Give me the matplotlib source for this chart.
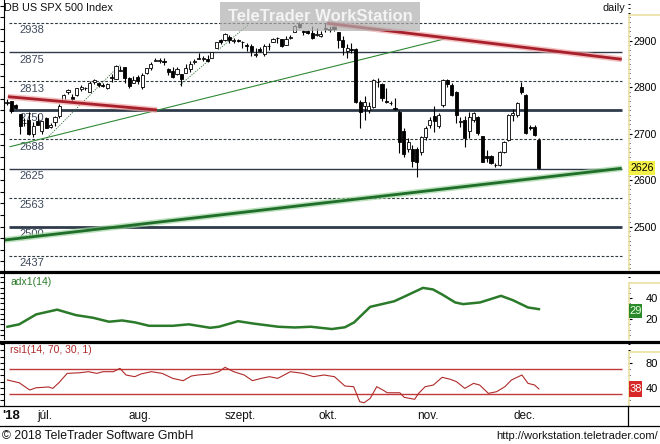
import matplotlib
matplotlib.use('Agg')
import matplotlib.pyplot as plt
from matplotlib.patches import Rectangle
from matplotlib.lines import Line2D
from matplotlib.ticker import MultipleLocator, FixedLocator, NullFormatter

plt.rcParams['font.family'] = ['Liberation Sans', 'DejaVu Sans']

# ---------------- data ----------------
dates = ["06-20","06-21","06-22","06-25","06-26","06-27","06-28","06-29",
         "07-02","07-03","07-04","07-05","07-06","07-09","07-10","07-11","07-12","07-13",
         "07-16","07-17","07-18","07-19","07-20","07-23","07-24","07-25","07-26","07-27",
         "07-30","07-31","08-01","08-02","08-03","08-06","08-07","08-08","08-09","08-10",
         "08-13","08-14","08-15","08-16","08-17","08-20","08-21","08-22","08-23","08-24",
         "08-27","08-28","08-29","08-30","08-31","09-03","09-04","09-05","09-06","09-07",
         "09-10","09-11","09-12","09-13","09-14","09-17","09-18","09-19","09-20","09-21",
         "09-24","09-25","09-26","09-27","09-28","10-01","10-02","10-03","10-04","10-05",
         "10-08","10-09","10-10","10-11","10-12","10-15","10-16","10-17","10-18","10-19",
         "10-22","10-23","10-24","10-25","10-26","10-29","10-30","10-31","11-01","11-02",
         "11-05","11-06","11-07","11-08","11-09","11-12","11-13","11-14","11-15","11-16",
         "11-19","11-20","11-21","11-22","11-23","11-26","11-27","11-28","11-29","11-30",
         "12-03","12-04","12-05","12-06","12-07"]
opens = [2765.8,2769.3,2760.8,2742.9,2722.1,2728.5,2698.7,2727.1,
         2705.0,2733.3,2714.0,2724.2,2737.7,2769.8,2788.6,2779.8,2783.1,2796.9,
         2797.4,2789.3,2811.4,2809.4,2804.6,2799.2,2820.7,2817.7,2835.5,2842.4,
         2819.0,2809.7,2821.2,2800.5,2829.6,2840.3,2855.9,2856.8,2857.2,2838.9,
         2835.5,2827.9,2828.0,2831.4,2838.3,2853.9,2861.5,2861.0,2860.3,2862.4,
         2884.7,2901.5,2900.6,2908.9,2898.4,2901.5,2896.5,2891.6,2888.6,2868.3,
         2881.4,2871.6,2888.3,2896.9,2906.4,2903.8,2890.7,2906.6,2919.7,2936.8,
         2921.8,2921.8,2917.0,2911.7,2910.0,2926.3,2923.8,2931.7,2919.4,2902.5,
         2877.5,2882.5,2882.0,2769.0,2759.0,2750.0,2757.0,2811.0,2807.0,2770.0,
         2766.0,2755.0,2747.0,2706.0,2667.0,2668.0,2666.0,2660.0,2692.0,2718.0,
         2737.0,2716.0,2761.0,2815.0,2805.0,2790.0,2725.0,2730.0,2705.0,2729.0,
         2735.0,2694.0,2652.0,2652.0,2633.0,2632.0,2661.0,2686.0,2740.0,2740.0,
         2801.0,2783.0,2714.0,2715.0,2687.0]
highs = [2774.9,2769.3,2764.2,2742.9,2732.9,2746.1,2724.3,2743.3,
         2727.3,2736.6,2722.0,2737.8,2764.4,2784.7,2795.6,2785.9,2799.2,2804.5,
         2801.2,2814.2,2816.8,2812.1,2809.7,2808.6,2829.0,2848.0,2845.6,2843.2,
         2821.7,2824.5,2825.8,2829.9,2840.4,2853.3,2863.4,2862.4,2862.5,2842.2,
         2843.4,2843.1,2828.0,2850.5,2855.6,2859.8,2873.2,2867.5,2868.8,2876.2,
         2898.3,2903.8,2916.5,2912.5,2906.3,2904.0,2900.2,2894.2,2892.1,2883.8,
         2886.9,2892.5,2894.7,2906.8,2908.3,2904.7,2911.2,2912.4,2934.8,2940.9,
         2923.8,2924.0,2931.2,2927.2,2920.5,2937.1,2931.4,2939.9,2919.8,2909.6,
         2894.0,2894.8,2885.0,2772.0,2780.0,2768.0,2818.0,2820.0,2810.0,2798.0,
         2770.0,2776.0,2750.0,2712.0,2690.0,2675.0,2672.0,2695.0,2716.0,2735.0,
         2760.0,2745.0,2818.0,2818.0,2808.0,2792.0,2735.0,2738.0,2746.0,2746.0,
         2738.0,2696.0,2665.0,2655.0,2637.0,2662.0,2685.0,2742.0,2753.0,2768.0,
         2812.0,2786.0,2718.0,2718.0,2690.0]
lows = [2762.0,2744.4,2752.7,2698.7,2715.6,2698.0,2692.0,2718.0,
        2699.0,2711.2,2712.0,2716.0,2733.5,2769.8,2786.2,2770.8,2781.5,2791.7,
        2793.4,2789.2,2805.9,2799.8,2800.0,2795.1,2811.1,2817.7,2835.3,2808.3,
        2798.1,2808.1,2805.9,2796.3,2827.4,2836.0,2855.9,2853.1,2848.3,2825.8,
        2819.9,2826.6,2802.5,2831.4,2833.7,2850.6,2861.3,2856.1,2854.0,2862.4,
        2884.7,2893.5,2898.4,2895.2,2895.8,2898.0,2885.1,2876.9,2867.3,2864.1,
        2875.9,2866.8,2879.2,2896.4,2895.8,2886.2,2890.4,2903.8,2919.7,2927.1,
        2912.6,2913.7,2903.3,2909.3,2907.5,2917.9,2919.4,2921.4,2883.9,2869.3,
        2862.1,2874.3,2766.0,2712.0,2730.0,2745.0,2755.0,2800.0,2770.0,2765.0,
        2762.0,2752.0,2658.0,2650.0,2660.0,2628.0,2607.0,2655.0,2686.0,2712.0,
        2703.0,2712.0,2758.0,2800.0,2780.0,2722.0,2715.0,2672.0,2690.0,2726.0,
        2698.0,2638.0,2640.0,2634.0,2628.0,2630.0,2658.0,2684.0,2728.0,2736.0,
        2785.0,2700.0,2708.0,2694.0,2624.0]
closes = [2767.3,2749.8,2754.9,2717.1,2723.1,2699.6,2716.3,2718.4,
          2726.7,2713.2,2718.0,2736.6,2759.8,2784.2,2793.8,2774.0,2798.3,2801.3,
          2798.4,2809.6,2815.6,2804.5,2801.8,2807.0,2820.4,2846.1,2837.4,2818.8,
          2802.6,2816.3,2813.4,2827.2,2840.4,2850.4,2858.5,2857.7,2853.6,2833.3,
          2821.9,2840.0,2818.4,2840.7,2850.1,2857.1,2863.0,2861.8,2857.0,2874.7,
          2896.7,2897.5,2914.0,2901.1,2901.5,2900.0,2896.7,2888.6,2878.1,2871.7,
          2877.1,2887.9,2888.9,2904.2,2905.0,2888.8,2904.3,2908.0,2930.8,2929.7,
          2919.4,2915.6,2906.0,2914.0,2914.0,2924.6,2923.4,2925.5,2901.6,2885.6,
          2884.4,2880.3,2769.0,2747.0,2769.0,2759.0,2815.0,2812.0,2776.0,2768.0,
          2765.0,2754.0,2683.0,2656.0,2683.0,2642.0,2640.0,2692.0,2712.0,2729.0,
          2728.0,2740.0,2815.0,2806.0,2783.0,2740.0,2726.0,2690.0,2735.0,2744.0,
          2701.0,2640.0,2648.0,2637.0,2632.0,2661.0,2683.0,2740.0,2745.0,2766.0,
          2790.0,2702.0,2712.0,2697.0,2626.0]

level_vals = [2437.5, 2500, 2562.5, 2625, 2687.5, 2750, 2812.5, 2875, 2937.5]
level_labels = ["2437", "2500", "2563", "2625", "2688", "2750", "2813", "2875", "2938"]
level_kinds = ["dash", "thick", "dash", "thin", "dash", "thick", "dash", "thin", "dash"]

# trend lines: (start idx, start price, end idx, end price)
red_lines = [(0.2, 2779.6, 34.4, 2751.0), (73.4, 2937.5, 141.0, 2860.0)]
green_thick = (-0.5, 2471.3, 141.0, 2625.5)
green_thin = (0.7, 2672.0, 100.9, 2905.2)
dotted_lines = [(9.2, 2690.7, 25.9, 2847.8), (39.7, 2804.7, 47.2, 2865.0), (48.4, 2880.0, 55.3, 2933.8)]

adx_pos = [0.1, 2.8, 6.7, 11.5, 15.8, 19.7, 23.4, 26.4, 29.4, 32.6, 38, 41.7, 46.6, 48.6, 53, 56.4,
           62.2, 66, 69.7, 74.5, 77.5, 79.6, 83.3, 88.8, 91, 95.4, 97.7, 99.8, 102.8, 104.6, 108.5,
           113.3, 116, 119.5, 122]
adx_val = [12.7, 15, 24.5, 29, 23.8, 21.3, 17.5, 18.7, 16.8, 13.6, 13.6, 15, 11.7, 12.7, 18, 15.8,
           12.7, 12, 12.7, 10.5, 12.2, 16.8, 31.7, 37, 41.2, 49.8, 48.3, 43.5, 35.9, 34.3, 35.9,
           42.2, 38.1, 31.1, 29.5]
rsi_pos = [0.1, 2.8, 5.2, 6.7, 8.0, 9.5, 10.5, 11.9, 13.8, 16.7, 18.7, 20.6, 22, 24.4, 25.9, 27.3,
           29.3, 30.7, 33.1, 35.6, 38, 40.4, 42.3, 43.8, 46.7, 48.6, 50, 52, 54.4, 56.3, 58.3, 60.2,
           62.1, 65, 67.9, 70.3, 72.7, 75.1, 77.5, 79.5, 80.9, 81.9, 83.3, 84.8, 86.2, 87.2, 90.1,
           91.1, 93.5, 94.4, 95.9, 97.8, 99.8, 101.7, 103.1, 105, 107, 108.4, 110.4, 112.3, 114.2,
           115.7, 118.1, 119.5, 121, 122]
rsi_val = [52.4, 48, 36.4, 40, 40.5, 41.3, 39, 48, 63, 64, 65.7, 63, 65.7, 65.7, 71, 60.4,
           57.7, 62, 65.7, 63, 55, 51.3, 58.8, 60.4, 62, 65.7, 72.7, 65.7, 60.4, 51.3, 55, 57.7,
           55, 65.7, 63, 57.7, 60.4, 57.7, 42.8, 41.7, 17.7, 16, 23, 41.7, 36.4, 32, 32,
           24.7, 21.5, 31, 41.7, 44.4, 56.7, 53.5, 49.7, 39, 47, 44.4, 31, 33.7, 41.7,
           52.4, 60.4, 47, 44.4, 38]

month_labels = ["júl.", "aug.", "szept.", "okt.", "nov.", "dec."]
month_starts = ["07-02", "08-01", "09-03", "10-01", "11-01", "12-03"]

last_price = "2626"
last_adx = "29"
last_rsi = "38"

# ---------------- layout helpers ----------------
W, H = 660, 444
fig = plt.figure(figsize=(6.6, 4.44), dpi=100)
fig.patch.set_facecolor('white')

def rect(x0, y0, x1, y1):
    return [x0 / W, 1 - y1 / H, (x1 - x0) / W, (y1 - y0) / H]

def fx(px):
    return px / W

def fy(py):
    return 1 - py / H

X0, DX = 7.0, 4.36
XL = ((4 - X0) / DX, (628 - X0) / DX)
line_end = (622 - X0) / DX
line_start = (9 - X0) / DX

PALE = '#ece4a8'
SLATE = '#2f3b4b'

def style_panel(a, ylim):
    a.set_xlim(*XL)
    a.set_ylim(*ylim)
    for s in ['top', 'right', 'bottom']:
        a.spines[s].set_visible(False)
    a.spines['left'].set_color('black')
    a.spines['left'].set_linewidth(0.8)
    a.set_xticks([])
    a.set_facecolor('none')

def right_axis(a, ylim, majors, minor_step, pad, size):
    r = a.twinx()
    r.set_ylim(*ylim)
    r.set_xlim(*XL)
    for s in ['top', 'right', 'bottom', 'left']:
        r.spines[s].set_visible(False)
    r.yaxis.set_major_locator(FixedLocator(majors))
    r.yaxis.set_minor_locator(MultipleLocator(minor_step))
    r.tick_params(axis='y', which='major', direction='out', length=3, width=0.8, pad=pad,
                  labelsize=size, colors='black')
    r.tick_params(axis='y', which='minor', direction='out', length=1.6, width=0.7)
    r.set_xticks([])
    return r

# ---------------- main price panel ----------------
ax = fig.add_axes(rect(4, 0, 628, 270))
style_panel(ax, (2406.7, 2987.6))
ax.yaxis.set_major_locator(MultipleLocator(25))
ax.yaxis.set_major_formatter(NullFormatter())
ax.tick_params(axis='y', which='major', direction='out', length=3, width=0.8, left=True)

axr = right_axis(ax, (2406.7, 2987.6), [2500, 2600, 2700, 2800, 2900], 10, 1.2, 7.6)

for v, lab, kind in zip(level_vals, level_labels, level_kinds):
    if kind == 'dash':
        ax.hlines(v, line_start, line_end, colors='#303840', lw=0.8, linestyles=(0, (2.5, 1.6)), zorder=1)
    elif kind == 'thick':
        ax.hlines(v, line_start, line_end, colors=SLATE, lw=2.0, zorder=1)
    else:
        ax.hlines(v, line_start, line_end, colors=SLATE, lw=1.0, zorder=1)
    ax.text((19 - X0) / DX, v - 15.5, lab, fontsize=8, color='#3e4a5c', va='center', ha='left', zorder=1)

# trend lines
gx0, gy0, gx1, gy1 = green_thick
ax.plot([gx0, gx1], [gy0, gy1], color='#9fd49f', lw=4.2, alpha=0.7, solid_capstyle='butt', zorder=2)
ax.plot([gx0, gx1], [gy0, gy1], color='#1f6e2a', lw=2.0, solid_capstyle='butt', zorder=2)
tx0, ty0, tx1, ty1 = green_thin
ax.plot([tx0, tx1], [ty0, ty1], color='#2f8a36', lw=0.8, zorder=2)
for (a0, b0, a1, b1) in dotted_lines:
    ax.plot([a0, a1], [b0, b1], color='#2f6e36', lw=0.6, linestyle=(0, (1.5, 1.5)), zorder=2)
for (a0, b0, a1, b1) in red_lines:
    ax.plot([a0, a1], [b0, b1], color='#f0a6a6', lw=4.2, alpha=0.7, solid_capstyle='butt', zorder=4)
    ax.plot([a0, a1], [b0, b1], color='#a8202c', lw=2.0, solid_capstyle='butt', zorder=4)

# candles
for i, (o, h, l, c) in enumerate(zip(opens, highs, lows, closes)):
    ax.vlines(i, l, h, colors='black', lw=0.8, zorder=3)
    bot = min(o, c)
    hgt = max(abs(c - o), 1.2)
    face = 'white' if c >= o else 'black'
    ax.add_patch(Rectangle((i - 0.36, bot), 0.72, hgt, facecolor=face, edgecolor='black',
                           lw=0.6, zorder=3.5))

# titles
fig.text(fx(4), fy(8), "DB US SPX 500 Index", fontsize=7.8, va='center', ha='left', color='#111111')
fig.text(fx(625), fy(8), "daily", fontsize=7.8, va='center', ha='right', color='#111111')

# watermark
fig.patches.append(Rectangle((fx(220), fy(31)), fx(420) - fx(220), fy(2) - fy(31),
                             transform=fig.transFigure, facecolor='#b0b0b0', alpha=0.7,
                             edgecolor='none', zorder=5))
fig.text(fx(320), fy(16.5), "TeleTrader WorkStation", fontsize=12, fontweight='bold',
         color='white', alpha=0.8, ha='center', va='center', zorder=6)

# pale axis borders
def pale_border(ytop, ybot):
    fig.lines.append(Line2D([fx(628.5), fx(628.5)], [fy(ytop), fy(ybot)], transform=fig.transFigure,
                            color=PALE, lw=1.3, zorder=1))
    fig.lines.append(Line2D([fx(628.5), fx(660)], [fy(ytop), fy(ytop)], transform=fig.transFigure,
                            color=PALE, lw=1.3, zorder=1))

pale_border(15, 270)

# last price box
fig.patches.append(Rectangle((fx(629), fy(175)), fx(655) - fx(629), fy(161) - fy(175),
                             transform=fig.transFigure, facecolor='#f4f04a', edgecolor='none', zorder=7))
fig.text(fx(642), fy(168), last_price, fontsize=7.6, ha='center', va='center', color='black', zorder=8)

# ---------------- ADX panel ----------------
ax2 = fig.add_axes(rect(4, 273, 628, 339))
style_panel(ax2, (1, 64))
ax2.yaxis.set_major_locator(MultipleLocator(5))
ax2.yaxis.set_major_formatter(NullFormatter())
ax2.tick_params(axis='y', direction='out', length=3, width=0.8)
ax2.plot(adx_pos, adx_val, color='#2a7a2a', lw=1.8, zorder=3)
ax2.text(0.01, 0.86, "adx1(14)", transform=ax2.transAxes, fontsize=7.5, color='#2a7a2a',
         ha='left', va='center')
ax2r = right_axis(ax2, (1, 64), [20, 40], 5, 9.5, 8)
pale_border(283, 339)
fig.patches.append(Rectangle((fx(629), fy(318)), fx(642) - fx(629), fy(304) - fy(318),
                             transform=fig.transFigure, facecolor='#2a8a2a', edgecolor='none', zorder=7))
fig.text(fx(635.5), fy(311), last_adx, fontsize=8, ha='center', va='center', color='#e8ffe8', zorder=8)

# ---------------- RSI panel ----------------
ax3 = fig.add_axes(rect(4, 343, 628, 405))
style_panel(ax3, (12.4, 111.6))
ax3.yaxis.set_major_locator(MultipleLocator(10))
ax3.yaxis.set_major_formatter(NullFormatter())
ax3.tick_params(axis='y', direction='out', length=3, width=0.8)
ax3.hlines([70, 30], line_start, line_end, colors='#c03a3a', lw=1.0, zorder=2)
ax3.plot(rsi_pos, rsi_val, color='#b02a2a', lw=0.8, zorder=3)
ax3.text(0.01, 0.88, "rsi1(14, 70, 30, 1)", transform=ax3.transAxes, fontsize=7.5, color='#b02a2a',
         ha='left', va='center')
ax3r = right_axis(ax3, (12.4, 111.6), [40, 80], 10, 9.5, 8)
pale_border(352, 405)
fig.patches.append(Rectangle((fx(629), fy(397)), fx(642) - fx(629), fy(381) - fy(397),
                             transform=fig.transFigure, facecolor='#d62828', edgecolor='none', zorder=7))
fig.text(fx(635.5), fy(389), last_rsi, fontsize=8, ha='center', va='center', color='white', zorder=8)

# ---------------- date axis ----------------
ax4 = fig.add_axes(rect(4, 406, 628, 425))
ax4.set_xlim(*XL)
ax4.set_ylim(0, 1)
ax4.axis('off')
for lab, d in zip(month_labels, month_starts):
    ax4.text(dates.index(d) + 0.6, 0.5, lab, fontsize=8.5, ha='center', va='center', color='#111111')
fig.text(fx(2), fy(416), "'18", fontsize=9.5, fontweight='bold', ha='left', va='center', color='#111111')

# separators
def hline_px(y, x0, x1, lw, color='black'):
    fig.lines.append(Line2D([fx(x0), fx(x1)], [fy(y), fy(y)], transform=fig.transFigure,
                            color=color, lw=lw, zorder=9))

hline_px(271.5, 0, 660, 2.3)
hline_px(341.5, 0, 660, 2.3)
hline_px(405.5, 0, 660, 0.9)
hline_px(425.5, 0, 660, 0.9)
fig.lines.append(Line2D([fx(628), fx(628)], [fy(405.5), fy(425.5)], transform=fig.transFigure,
                        color='black', lw=0.9, zorder=9))

# footer
fig.text(fx(2), fy(436), "© 2018 TeleTrader Software GmbH", fontsize=8.8, ha='left', va='center', color='#111111')
fig.text(fx(658), fy(436), "http://workstation.teletrader.com/", fontsize=8, ha='right', va='center', color='#111111')

fig.savefig('out.png', dpi=100)
